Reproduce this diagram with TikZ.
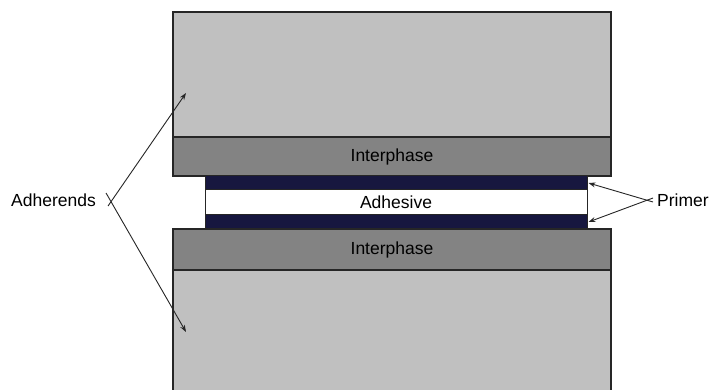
\documentclass[tikz,border=0pt]{standalone}
\usepackage{fontspec}
\setmainfont{Liberation Sans}
\usetikzlibrary{arrows.meta}
\definecolor{adgray}{HTML}{C0C0C0}
\definecolor{intgray}{HTML}{838383}
\definecolor{primnavy}{HTML}{17173F}
\definecolor{edge}{HTML}{262626}
\begin{document}
\begin{tikzpicture}[x=1pt,y=-1pt,
  layer/.style={draw=edge, line width=1.6pt, rectangle, inner sep=0pt, outer sep=0pt},
  adlayer/.style={layer, fill=adgray, minimum width=438pt},
  intlayer/.style={layer, fill=intgray, minimum width=438pt, font=\fontsize{17.5}{19}\selectfont},
  primlayer/.style={layer, fill=primnavy, line width=1pt, minimum width=382pt, minimum height=14pt},
  lbl/.style={font=\fontsize{17.5}{19}\selectfont, inner sep=0pt},
  arr/.style={draw=black!85, line width=0.9pt, -{Stealth[length=7pt,width=5pt]}}
]
\useasboundingbox (0,0) rectangle (710,390);
\fill[white] (0,0) rectangle (710,390);
% adherends
\node[adlayer, minimum height=125pt] (topad) at (392,74.5) {};
\node[adlayer, minimum height=130pt] (botad) at (392,335) {};
% interphases
\node[intlayer, minimum height=39pt] (topint) at (392,156.5) {\raisebox{-3pt}{Interphase}};
\node[intlayer, minimum height=41pt] (botint) at (392,249.5) {\raisebox{-1pt}{Interphase}};
% primer and adhesive
\node[primlayer] (primtop) at (396,183) {};
\node[layer, fill=white, line width=1pt, minimum width=382pt, minimum height=25pt, font=\fontsize{17.5}{19}\selectfont] (adhesive) at (396,202.5) {\raisebox{-1pt}{Adhesive}};
\node[primlayer] (primbot) at (396,222) {};
% labels
\node[lbl, anchor=west] (adherends) at (11,200) {Adherends};
\node[lbl, anchor=west] (primer) at (657,200) {Primer};
% arrows
\coordinate (adtip1) at (186,93);
\coordinate (adtip2) at (186,332);
\draw[arr] ([xshift=12pt,yshift=-6pt]adherends.east) -- (adtip1);
\draw[arr] ([xshift=10pt,yshift=7pt]adherends.east) -- (adtip2);
\draw[arr] ([xshift=-4pt,yshift=-2pt]primer.west) -- ([xshift=1.5pt]primtop.east);
\draw[arr] ([xshift=-4pt,yshift=2pt]primer.west) -- ([xshift=1.5pt]primbot.east);
\end{tikzpicture}
\end{document}
